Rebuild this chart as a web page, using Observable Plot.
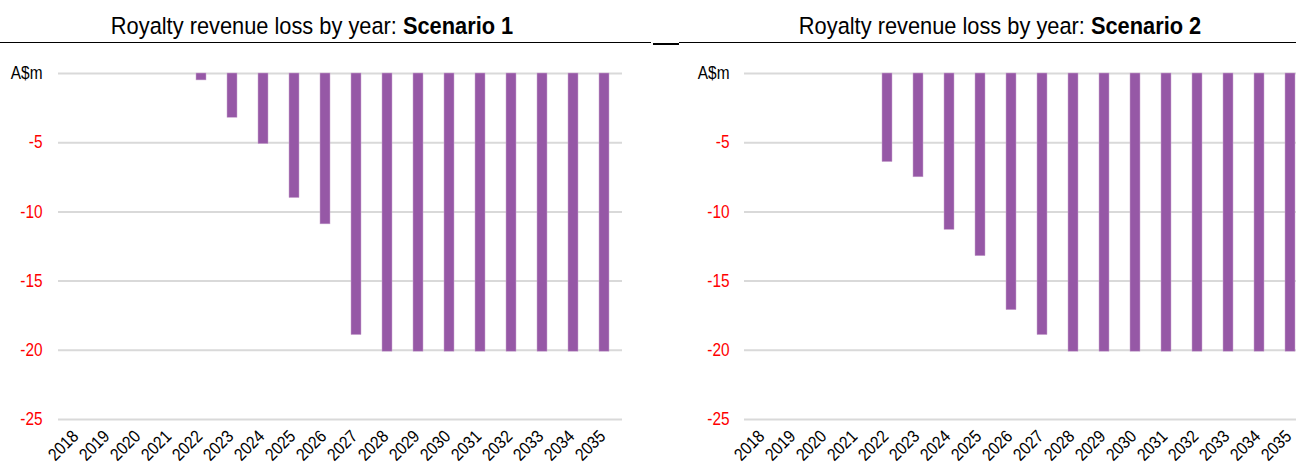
<!DOCTYPE html>
<html>
<head>
<meta charset="utf-8">
<script src="https://cdn.jsdelivr.net/npm/d3@7"></script>
<script src="https://cdn.jsdelivr.net/npm/@observablehq/plot@0.6"></script>
<style>
  html, body { margin: 0; padding: 0; background: #fff; }
  body { width: 1296px; height: 465px; overflow: hidden; position: relative;
         font-family: "Liberation Sans", Arial, sans-serif; }
  .panel { position: absolute; top: 0; }
  .title { position: absolute; top: 12px; white-space: nowrap; font-size: 24.5px; line-height: 28px; color: #000; text-align: center; }
  .title span { display: inline-block; transform: scaleX(0.89); transform-origin: 50% 50%; }
  .title b { font-weight: bold; }
  .rule { position: absolute; background: #000; height: 1.5px; }
  .chart { position: absolute; top: 50px; left: 0; }
</style>
</head>
<body>
<div class="rule" style="left:0; width:651px; top:41.5px"></div>
<div class="rule" style="left:653px; width:26px; top:43px"></div>
<div class="rule" style="left:679px; width:617px; top:41.5px"></div>
<div class="panel" id="p1" style="left:0; width:648px">
  <div class="title" style="left:0; width:625px"><span>Royalty revenue loss by year: <b>Scenario 1</b></span></div>
  <div class="chart" id="c1"></div>
</div>
<div class="panel" id="p2" style="left:648px; width:660px">
  <div class="title" style="left:0; width:704px"><span>Royalty revenue loss by year: <b>Scenario 2</b></span></div>
  <div class="chart" id="c2"></div>
</div>
<script>
const years = ["2018","2019","2020","2021","2022","2023","2024","2025","2026","2027","2028","2029","2030","2031","2032","2033","2034","2035"];
const scenario1 = [0, 0, 0, 0, -0.5, -3.2, -5.1, -9.0, -10.9, -18.9, -20.1, -20.1, -20.1, -20.1, -20.1, -20.1, -20.1, -20.1];
const scenario2 = [0, 0, 0, 0, -6.4, -7.5, -11.3, -13.2, -17.1, -18.9, -20.1, -20.1, -20.1, -20.1, -20.1, -20.1, -20.1, -20.1];
const yTicks = [0, -5, -10, -15, -20, -25];
const unitLabel = "A$m";

const font = '"Liberation Sans", Arial, sans-serif';
const condense = 0.88;

function condenseText(svg) {
  svg.querySelectorAll('g[aria-label="y-axis tick label"] text, g[aria-label="x-axis tick label"] text').forEach(t => {
    const tr = t.getAttribute("transform");
    if (tr) {
      t.setAttribute("transform", tr + ` scale(${condense},1)`);
    } else {
      const x = +t.getAttribute("x") || 0, y = +t.getAttribute("y") || 0;
      t.removeAttribute("x"); t.removeAttribute("y");
      t.setAttribute("transform", `translate(${x},${y}) scale(${condense},1)`);
    }
  });
  return svg;
}

function makeChart(values, opts) {
  const data = years.map((y, i) => ({year: y, value: values[i]})).filter(d => d.value !== 0);
  const svg = Plot.plot({
    width: opts.width,
    height: 415,
    marginTop: 23,
    marginBottom: 46,
    marginLeft: opts.marginLeft,
    marginRight: opts.marginRight,
    style: {fontFamily: font, background: "transparent", overflow: "visible"},
    x: {type: "band", domain: years, paddingInner: 0.68, paddingOuter: 0.34, label: null},
    y: {domain: [-25, 0], label: null},
    marks: [
      Plot.ruleY(yTicks, {stroke: "#d9d9d9", strokeWidth: 2}),
      Plot.barY(data, {x: "year", y1: 0, y2: "value", fill: "#9658a6", stroke: "#c9a6d0", strokeWidth: 0.5}),
      Plot.axisY(yTicks, {
        tickSize: 0, tickPadding: opts.yPad, fontSize: 17.5,
        tickFormat: d => d === 0 ? unitLabel : String(d),
        fill: d => d === 0 ? "#000" : "#ff0000"
      }),
      Plot.axisX(years, {tickSize: 0, tickPadding: 14, dx: -2, tickRotate: -45, fontSize: 17.5, fill: "#000"})
    ]
  });
  return condenseText(svg);
}

document.getElementById("c1").append(makeChart(scenario1, {width: 648, marginLeft: 58, marginRight: 26, yPad: 16}));
document.getElementById("c2").append(makeChart(scenario2, {width: 660, marginLeft: 96, marginRight: 0, yPad: 15}));
</script>
</body>
</html>
